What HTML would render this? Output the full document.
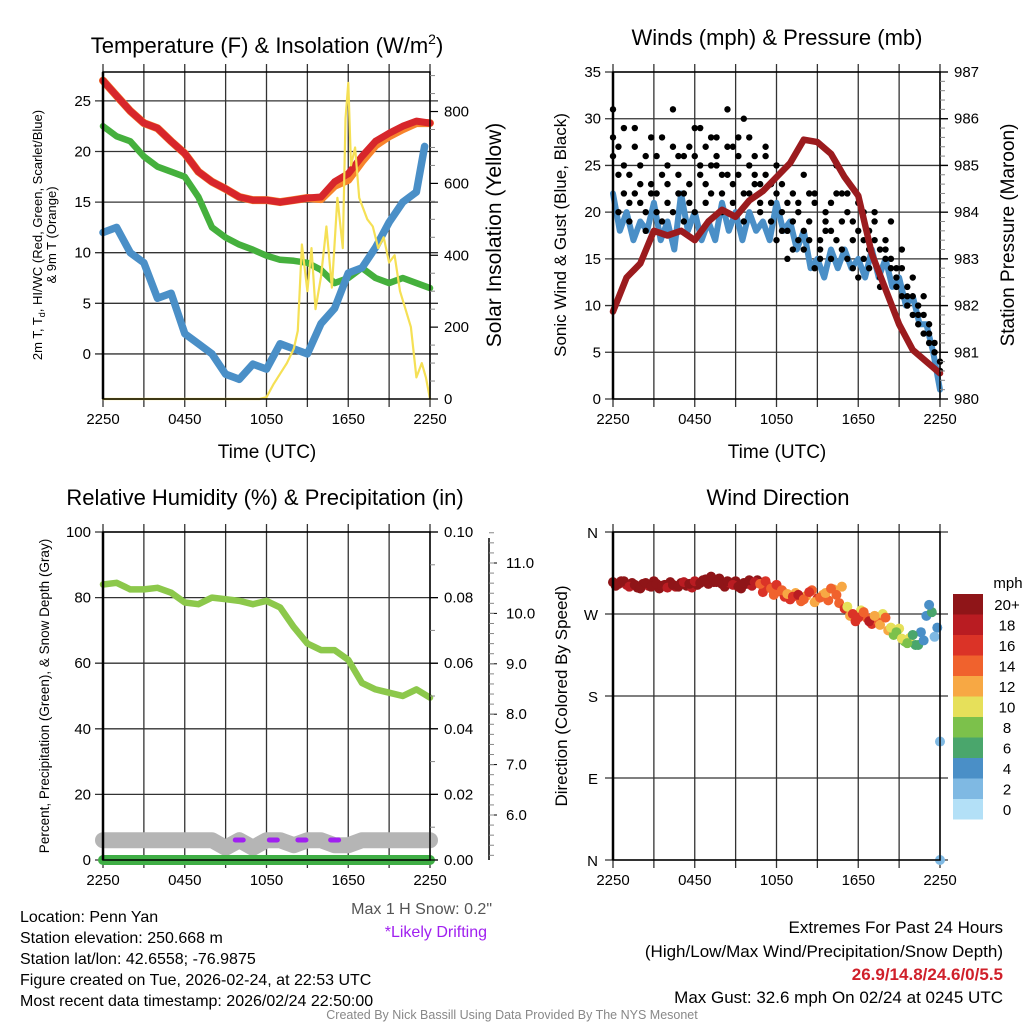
<!DOCTYPE html>
<html><head><meta charset="utf-8"><style>
html,body{margin:0;padding:0;background:#fff;}
svg{display:block;font-family:"Liberation Sans",Arial,sans-serif;}
</style></head><body>
<svg id="chart" width="1024" height="1024" viewBox="0 0 1024 1024" xmlns="http://www.w3.org/2000/svg">
<g id="grids"></g>
<g id="series"></g>
<g id="axes"></g>
<g id="labels">
<text x="267" y="53" font-size="22" text-anchor="middle">Temperature (F) &amp; Insolation (W/m<tspan dy="-9" font-size="14">2</tspan><tspan dy="9">)</tspan></text>
<text x="777" y="45" font-size="22" text-anchor="middle">Winds (mph) &amp; Pressure (mb)</text>
<text x="265" y="505" font-size="22" text-anchor="middle">Relative Humidity (%) &amp; Precipitation (in)</text>
<text x="778" y="505" font-size="22" text-anchor="middle">Wind Direction</text>
<text x="267" y="458" font-size="19" text-anchor="middle">Time (UTC)</text>
<text x="777" y="458" font-size="19" text-anchor="middle">Time (UTC)</text>
<text transform="translate(42,235) rotate(-90)" font-size="13" text-anchor="middle">2m T, T<tspan font-size="9" dy="3">d</tspan><tspan dy="-3">, HI/WC (Red, Green, Scarlet/Blue)</tspan></text>
<text transform="translate(56,235) rotate(-90)" font-size="13" text-anchor="middle">&amp; 9m T (Orange)</text>
<text transform="translate(501,235) rotate(-90)" font-size="21" text-anchor="middle">Solar Insolation (Yellow)</text>
<text transform="translate(566,235) rotate(-90)" font-size="17" text-anchor="middle">Sonic Wind &amp; Gust (Blue, Black)</text>
<text transform="translate(1014,235) rotate(-90)" font-size="19" text-anchor="middle">Station Pressure (Maroon)</text>
<text transform="translate(49,696) rotate(-90)" font-size="13.5" text-anchor="middle">Percent, Precipitation (Green), &amp; Snow Depth (Gray)</text>
<text transform="translate(567,696) rotate(-90)" font-size="17" text-anchor="middle">Direction (Colored By Speed)</text>
<text x="492" y="914" font-size="16" fill="#555" text-anchor="end">Max 1 H Snow: 0.2"</text>
<text x="487" y="937" font-size="16" fill="#a020f0" text-anchor="end">*Likely Drifting</text>
<g font-size="16">
<text x="20" y="922">Location: Penn Yan</text>
<text x="20" y="943">Station elevation: 250.668 m</text>
<text x="20" y="964">Station lat/lon: 42.6558; -76.9875</text>
<text x="20" y="985">Figure created on Tue, 2026-02-24, at 22:53 UTC</text>
<text x="20" y="1006">Most recent data timestamp: 2026/02/24 22:50:00</text>
</g>
<g font-size="17" text-anchor="end">
<text x="1003" y="933">Extremes For Past 24 Hours</text>
<text x="1003" y="957">(High/Low/Max Wind/Precipitation/Snow Depth)</text>
<text x="1003" y="980" fill="#d0202a" font-weight="bold">26.9/14.8/24.6/0/5.5</text>
<text x="1003" y="1003">Max Gust: 32.6 mph On 02/24 at 0245 UTC</text>
</g>
<text x="512" y="1019" font-size="12.5" fill="#888" text-anchor="middle">Created By Nick Bassill Using Data Provided By The NYS Mesonet</text>
</g>
</svg>
<script>
// ---- data ----
const timeLabels = ["2250","0450","1050","1650","2250"];
const tempRed = [27,25.5,24,22.8,22.3,21,19.8,18,17,16.3,15.5,15.2,15.2,15,15.2,15.4,15.5,17,17.8,19.5,21,21.8,22.5,23,22.8];
const temp9m = [27,25.5,24,22.8,22.3,21,19.8,18,17,16.3,15.5,15.2,15.2,15,15.2,15.4,15.3,16.6,17.2,19,20.6,21.5,22.2,22.8,22.8];
const dewGreen = [22.5,21.5,21,19.5,18.5,18,17.5,15.5,12.5,11.5,10.8,10.3,9.7,9.3,9.2,9,8.3,7,7.5,8.5,7.5,7,7.5,7,6.5];
const windChill = [12,12.5,10,9,5.5,6,2,1,0,-2,-2.5,-1,-1.5,1,0.5,0,3,4.5,8,8.5,10.5,13,15,16,20.5];
const insolTimes = [0,11.5,12,12.5,13,13.5,14,14.3,14.6,15,15.3,15.6,16,16.4,16.8,17.2,17.6,17.8,18,18.2,18.5,18.8,19,19.4,19.8,20.2,20.6,21,21.4,21.8,22.2,22.6,23,23.4,23.7,24];
const insolValues = [0,0,5,40,70,100,140,190,430,300,420,250,340,480,310,560,420,780,880,650,700,560,540,500,480,420,450,380,400,300,250,200,60,100,60,0];
const windSpeed = [22,18,20,17,19,18,21,17,19,16,22,18,20,17,19,17,21,18,20,17,20,18,19,17,21,18,19,16,18,14,15,13,16,14,16,14,15,13,16,13,15,12,13,10,11,8,8,5,1];
const gustA = [31,27,22,24,29,21,26,23,20,28,25,31,24,22,27,26,29,23,25,28,22,31,27,24,30,22,26,21,27,23,25,20,18,22,17,24,19,21,16,20,18,25,19,22,17,21,15,18,20,16,17,19,14,16,12,13,10,11,8,6,4];
const gustB = [26,20,29,19,22,25,18,22,26,19,23,20,26,19,23,20,24,21,28,25,20,24,21,28,19,25,23,20,24,19,17,23,15,19,21,16,22,14,17,19,15,17,22,15,19,13,20,14,17,12,15,15,12,14,10,11,8,9,6,5,3];
const gustC = [28,24,25,21,27,23,20,28,22,24,21,27,22,26,21,29,25,27,22,26,24,27,23,26,22,28,24,23,26,21,22,18,21,16,20,18,17,22,15,18,21,22,16,20,14,18,17,16,19,13,16,14,13,11,11,9,9,7,7,5,3];
const pressure = [981.87,982.6,982.9,983.6,983.5,983.6,983.4,983.8,984.05,983.9,984.25,984.45,984.75,985.05,985.55,985.5,985.25,984.75,984.35,983.1,982.35,981.6,981.05,980.8,980.55];
const rhValues = [84,84.5,82.5,82.5,83,81.5,78.5,78,80,79.5,79,78,79,77,71,66,64,64,61,54,52,51,50,52,49.5];
const snowDepth = [5.5,5.5,5.5,5.5,5.5,5.5,5.5,5.5,5.5,5.35,5.5,5.35,5.5,5.5,5.4,5.5,5.5,5.4,5.4,5.5,5.5,5.5,5.5,5.5,5.5];
const precip = [0,0,0,0,0,0,0,0,0,0,0,0,0,0,0,0,0,0,0,0,0,0,0,0,0];
const driftTimes = [10,12.5,14.6,17];
const dirValues = [305,303,306,300,302,298,304,300,303,301,299,302,300,305,303,306,304,308,311,305,303,306,302,300,304,307,305,303,306,298,302,296,292,289,291,286,294,283,288,293,298,291,300,278,270,266,272,262,268,258,266,255,250,243,238,247,236,241,280,245,130];
const dirSpeeds = [20,19,21,18,20,19,21,20,19,20,18,19,20,17,19,18,20,21,22,20,19,20,18,19,21,20,18,14,16,13,15,14,12,15,17,13,15,11,14,12,13,14,11,10,15,16,13,17,12,11,14,9,7,10,8,6,5,4,3,2,2];
const dirValues2 = [301,306,302,304,299,303,301,306,298,302,305,300,304,301,299,302,307,303,305,309,300,304,306,298,303,301,307,294,300,291,295,289,286,293,284,290,296,287,291,285,297,282,276,268,262,274,266,259,263,270,252,247,254,240,244,236,250,268,272,255,0];
const dirSpeeds2 = [19,20,18,21,19,20,18,21,20,19,21,18,19,20,18,21,19,20,21,19,20,18,21,20,19,18,19,16,15,14,13,15,16,12,14,11,13,15,12,14,12,13,15,11,16,10,14,15,13,9,12,8,10,7,9,6,4,4,5,3,1];
const speedBins = ["0","2","4","6","8","10","12","14","16","18","20+"];
const speedColors = ["#b3e0f7","#7fb9e3","#4a8fc7","#4aa66c","#7cc14b","#e6e05a","#f7a844","#f0622d","#db3327","#b91c22","#8f1518"];

const NS="http://www.w3.org/2000/svg";
const G=document.getElementById('grids'),S=document.getElementById('series'),A=document.getElementById('axes');
function mk(tag,attrs,parent){const e=document.createElementNS(NS,tag);for(const k in attrs)e.setAttribute(k,attrs[k]);parent.appendChild(e);return e;}
function txt(x,y,s,size,anchor,parent){const t=mk('text',{x:x,y:y,'font-size':size,'text-anchor':anchor},parent);t.textContent=s;return t;}

function panel(p){
  const xs=h=>p.x0+(p.x1-p.x0)*h/24;
  const ys=v=>p.y1-(p.y1-p.y0)*(v-p.ymin)/(p.ymax-p.ymin);
  p.xs=xs;p.ys=ys;
  for(let i=0;i<=8;i++){const x=xs(i*3);const l=mk('line',{x1:x,x2:x,y1:p.y0-8,y2:p.y1+8,stroke:'#333','stroke-width':1.3},G);
    
    }
  p.yticks.forEach(v=>{const y=ys(v);const l=mk('line',{x1:p.x0-8,x2:p.x1+8,y1:y,y2:y,stroke:'#333','stroke-width':1.3},G);
    
    
    if(p.ylab){const t=txt(p.x0-12,y+5,p.ylab(v),15,'end',A);
      
      }});
  const r=mk('rect',{x:p.x0,y:p.y0,width:p.x1-p.x0,height:p.y1-p.y0,fill:'none',stroke:'#000','stroke-width':1.5},A);
  
  
  mk('line',{x1:p.x0,x2:p.x0,y1:p.y0,y2:p.y1,stroke:'#000','stroke-width':2.5},A);
  timeLabels.forEach((s,i)=>{const t=txt(xs(i*6),p.y1+25,s,15,'middle',A);
    
    });
  return p;
}
function line(p,vals,times,ys,color,w,name){
  const n=vals.length;let d='';
  vals.forEach((v,i)=>{const h=times?times[i]:i*24/(n-1);d+=(i?'L':'M')+p.xs(h).toFixed(1)+' '+ys(v).toFixed(1);});
  const e=mk('path',{d:d,fill:'none',stroke:color,'stroke-width':w,'stroke-linejoin':'round','stroke-linecap':'round'},S);
  
  
  return e;
}
function rightAxis(x,y0,y1,vmin,vmax,ticks,minor,fmt,name){
  const ys=v=>y1-(y1-y0)*(v-vmin)/(vmax-vmin);
  ticks.forEach(v=>{mk('line',{x1:x,x2:x+8,y1:ys(v),y2:ys(v),stroke:'#000','stroke-width':1.2},A);
    const t=txt(x+14,ys(v)+5,fmt(v),15,'start',A);
    
    });
  minor.forEach(v=>mk('line',{x1:x,x2:x+5,y1:ys(v),y2:ys(v),stroke:'#888','stroke-width':1},A));
  return ys;
}

// Panel 1
const p1=panel({x0:103,x1:430,y0:72,y1:399,ymin:-4.45,ymax:27.85,yticks:[0,5,10,15,20,25],ylab:v=>String(v)});
const insY=rightAxis(430,72,399,0,910,[0,200,400,600,800],[50,100,150,250,300,350,450,500,550,650,700,750,850,900],v=>String(v),'insolation');
line(p1,temp9m,null,p1.ys,'#f7842c',8,'temp-9m-line');
line(p1,tempRed,null,p1.ys,'#d7262b',7,'temp-2m-line');
line(p1,dewGreen,null,p1.ys,'#45b03d',6.5,'dewpoint-line');
const wcT=windChill.map((v,i)=>i<24?i:23.6);
line(p1,windChill,wcT,p1.ys,'#4a8fc7',7.5,'windchill-line');
line(p1,insolValues,insolTimes,insY,'#f5e055',2.2,'insolation-line');

// Panel 2
const p2=panel({x0:613,x1:940,y0:72,y1:399,ymin:0,ymax:35,yticks:[0,5,10,15,20,25,30,35],ylab:v=>String(v)});
const prY=rightAxis(940,72,399,980,987,[980,981,982,983,984,985,986,987],[980.2,980.4,980.6,980.8,981.2,981.4,981.6,981.8,982.2,982.4,982.6,982.8,983.2,983.4,983.6,983.8,984.2,984.4,984.6,984.8,985.2,985.4,985.6,985.8,986.2,986.4,986.6,986.8],v=>String(v),'pressure');
line(p2,windSpeed,null,p2.ys,'#4a8fc7',6,'sonic-wind-line');
[gustA,gustB,gustC].forEach(arr=>{const n=arr.length;arr.forEach((v,i)=>{const c=mk('circle',{cx:p2.xs(i*24/(n-1)),cy:p2.ys(v),r:3.2,fill:'#000'},S);
  
  });});
line(p2,pressure,null,prY,'#9b1b1e',6.5,'pressure-line');

// Panel 3
const p3=panel({x0:103,x1:430,y0:532,y1:860,ymin:0,ymax:100,yticks:[0,20,40,60,80,100],ylab:v=>String(v)});
rightAxis(430,532,860,0,0.1,[0,0.02,0.04,0.06,0.08,0.1],[0.01,0.03,0.05,0.07,0.09],v=>v.toFixed(2),'precip');
mk('line',{x1:489,x2:489,y1:538,y2:860,stroke:'#000','stroke-width':1.5},A);
const snY=v=>815-(v-6)*50.4;
[6,7,8,9,10,11].forEach(v=>{mk('line',{x1:489,x2:497,y1:snY(v),y2:snY(v),stroke:'#000'},A);
  const t=txt(506,snY(v)+5,v.toFixed(1),15,'start',A);
  
  });
for(let v=5.2;v<11.6;v+=0.2){mk('line',{x1:489,x2:494,y1:snY(v),y2:snY(v),stroke:'#888'},A);}
line(p3,snowDepth,null,snY,'#b5b5b5',16,'snow-depth-line');
driftTimes.forEach(h=>{const e=mk('line',{x1:p3.xs(h)-4,x2:p3.xs(h)+4,y1:840,y2:840,stroke:'#a020f0','stroke-width':5,'stroke-linecap':'round'},S);
  
  });
line(p3,precip,null,v=>p3.ys(v*1000),'#3fae45',10,'precip-line');
line(p3,rhValues,null,p3.ys,'#8cc84b',6.5,'rh-line');

// Panel 4
const p4=panel({x0:613,x1:940,y0:532,y1:860,ymin:0,ymax:360,yticks:[0,90,180,270,360],ylab:null});
["N","E","S","W","N"].forEach((s,i)=>{const t=txt(598,p4.ys(i*90)+6,s,15,'end',A);
  
  });
function spColor(s){let i=Math.min(10,Math.max(0,Math.round(s/2)));return speedColors[i];}
[[dirValues2,dirSpeeds2,0.2],[dirValues,dirSpeeds,0]].forEach(([dv,sp,off])=>{
  dv.forEach((v,i)=>{const h=Math.min(24,i*24/(dv.length-1)+off);const c=mk('circle',{cx:p4.xs(h),cy:p4.ys(v),r:5,fill:spColor(sp[i])},S);
    
    });});
// colorbar
txt(1008,588,'mph',15,'middle',A);
speedBins.forEach((s,i)=>{const y=799-i*20.5;const r=mk('rect',{x:953,y:y,width:30,height:20.5,fill:speedColors[i]},A);
  
  
  const t=txt(1007,y+16,s,15,'middle',A);
  
  });
</script>
</body></html>
